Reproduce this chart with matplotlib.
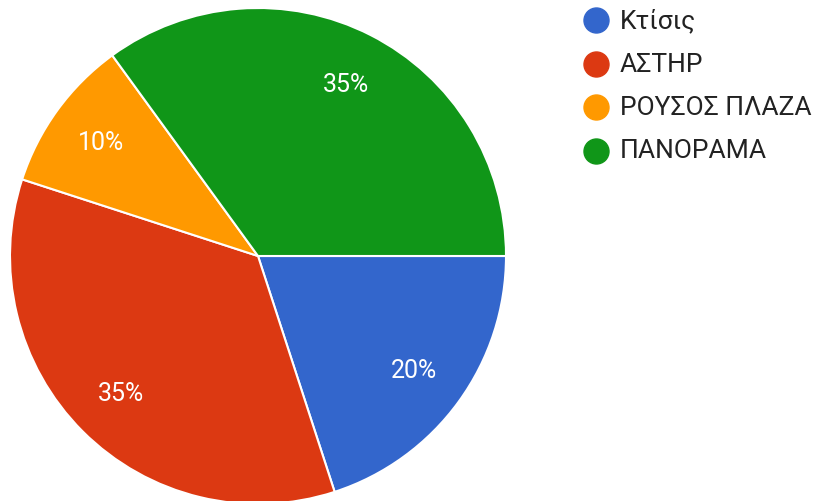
import matplotlib.pyplot as plt

# Данные опроса
labels = ['Κτίσις', 'ΑΣΤΗΡ', 'ΡΟΥΣΟΣ ΠΛΑΖΑ', 'ΠΑΝΟΡΑΜΑ']
shares = [20, 35, 10, 35]
colors = ['#3366CC', '#DC3912', '#FF9900', '#109618']

plt.rcParams['font.family'] = ['Roboto', 'DejaVu Sans']

W, H = 822, 502
fig = plt.figure(figsize=(W / 100, H / 100), dpi=100)

# Круг: центр (258, 257), радиус ~248 px
cx, cy, r = 258, 257, 248
ax = fig.add_axes([(cx - r) / W, (H - cy - r) / H, 2 * r / W, 2 * r / H])
wedges, texts, autotexts = ax.pie(
    shares, colors=colors, startangle=0, counterclock=False,
    autopct='%d%%', pctdistance=0.78,
    wedgeprops={'edgecolor': 'white', 'linewidth': 1.5},
    textprops={'color': 'white', 'fontsize': 18},
)
ax.set_xlim(-1, 1)
ax.set_ylim(-1, 1)
ax.set_aspect('equal')

# Легенда вручную
leg_x, leg_y0, step = 596, 21, 43.5
for i, (lab, col) in enumerate(zip(labels, colors)):
    y = leg_y0 + i * step
    fig.add_artist(plt.Line2D([leg_x / W], [1 - y / H], marker='o', markersize=18,
                              color=col, linestyle='none', transform=fig.transFigure))
    fig.text((leg_x + 24) / W, 1 - y / H, lab, fontsize=19, color='#222222',
             va='center', ha='left')

fig.savefig('out.png', dpi=100)
